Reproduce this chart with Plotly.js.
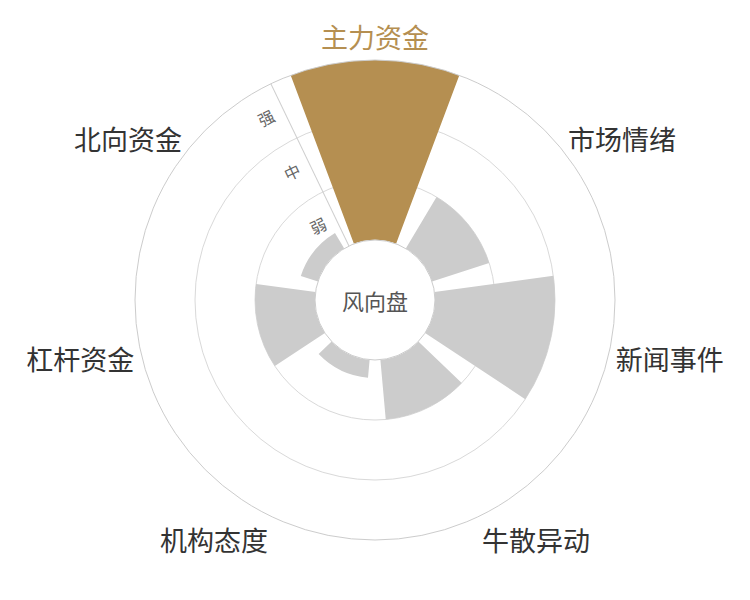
<!DOCTYPE html>
<html><head><meta charset="utf-8">
<script src="https://cdn.plot.ly/plotly-3.0.1.min.js"></script>
<style>html,body{margin:0;padding:0;background:#fff}</style>
</head><body><div id="chart" style="width:750px;height:600px"></div>
<script>
const categories = ['主力资金','市场情绪','新闻事件','牛散异动','机构态度','杠杆资金','北向资金'];
const values = [3, 1, 2, 1, 0.3, 1, 0.3];
const levelValues = [0.5, 1.5, 2.5];
const levelLabels = ['弱','中','强'];
const gridValues = [1, 2, 3];
const highlight = '主力资金';
const centerLabel = '风向盘';

const GOLD = '#b58f51';
const GRAY = '#cccccc';
const FONT = '"Noto Sans CJK SC", "Noto Sans", sans-serif';

const barColors = categories.map(c => c === highlight ? GOLD : GRAY);
const tickText = categories.map(c => c === highlight ? '<span style="color:' + GOLD + '">' + c + '</span>' : c);

const data = [
  {
    type: 'barpolar',
    r: values,
    theta: categories,
    marker: {color: barColors, line: {width: 0}},
    hoverinfo: 'skip',
    subplot: 'polar'
  },
  {
    type: 'scatterpolar',
    r: levelValues,
    theta: [0, 0, 0],
    mode: 'none',
    hoverinfo: 'skip',
    subplot: 'polar2'
  }
];

const axisAngle = 90 + 360 / categories.length / 2;

const layout = {
  width: 750, height: 600,
  margin: {l: 135, r: 135, t: 60, b: 60},
  paper_bgcolor: '#fff',
  showlegend: false,
  font: {family: FONT},
  polar: {
    domain: {x: [0, 1], y: [0, 1]},
    hole: 0.25,
    bargap: 0.2,
    bgcolor: 'rgba(0,0,0,0)',
    radialaxis: {
      range: [0, 3],
      tickmode: 'array',
      tickvals: gridValues,
      showticklabels: false,
      ticks: '',
      angle: axisAngle,
      showline: true,
      linecolor: '#cfcfcf',
      linewidth: 1,
      showgrid: true,
      gridcolor: '#d9d9d9',
      gridwidth: 1
    },
    angularaxis: {
      type: 'category',
      categoryarray: categories,
      rotation: 90,
      direction: 'clockwise',
      showgrid: false,
      showline: true,
      linecolor: '#cccccc',
      linewidth: 1,
      ticks: 'outside',
      ticklen: 1,
      tickcolor: 'rgba(0,0,0,0)',
      tickmode: 'array',
      tickvals: categories,
      ticktext: tickText,
      tickfont: {size: 27, color: '#333333', family: FONT}
    }
  },
  polar2: {
    domain: {x: [0, 1], y: [0, 1]},
    hole: 0.25,
    bgcolor: 'rgba(0,0,0,0)',
    radialaxis: {
      range: [0, 3],
      tickmode: 'array',
      tickvals: levelValues,
      ticktext: levelLabels,
      angle: axisAngle,
      side: 'counterclockwise',
      tickangle: 90,
      ticks: 'outside',
      ticklen: 5,
      tickcolor: 'rgba(0,0,0,0)',
      showline: false,
      showgrid: false,
      tickfont: {size: 16, color: '#666666', family: FONT}
    },
    angularaxis: {visible: false, showgrid: false, showline: false, showticklabels: false}
  },
  annotations: [{
    xref: 'paper', yref: 'paper', x: 0.5, y: 0.5,
    text: centerLabel, showarrow: false,
    font: {size: 22, color: '#555555', family: FONT}
  }]
};

Plotly.newPlot('chart', data, layout, {displayModeBar: false, staticPlot: true});
</script>
</body></html>
